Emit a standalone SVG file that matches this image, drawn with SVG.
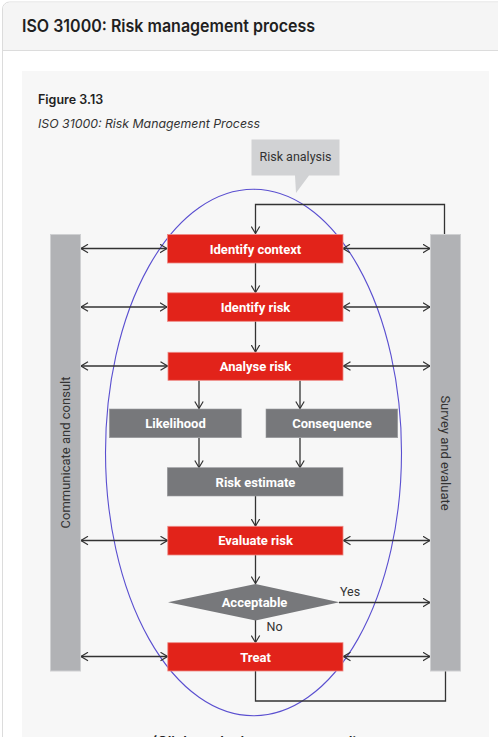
<svg xmlns="http://www.w3.org/2000/svg" width="498" height="737" viewBox="0 0 498 737">
<defs>
<style>
.title{font-family:Inter,"Open Sans","Liberation Sans",sans-serif;font-weight:600;font-size:17px;fill:#1f1f1f}
.fig{font-family:Inter,"Open Sans","Liberation Sans",sans-serif;font-weight:600;font-size:12.5px;fill:#1f1f1f}
.cap{font-family:Inter,"Open Sans","Liberation Sans",sans-serif;font-style:italic;font-size:12.3px;fill:#333}
.red{fill:#e2231a;stroke:#ee8a86;stroke-width:0.8}
.gray{fill:#77787b;stroke:#9a9b9e;stroke-width:0.6}
.bar{fill:#b1b2b5;stroke:#cfd0d2;stroke-width:1}
.lbl{font-family:Roboto,"Liberation Sans",sans-serif;font-weight:700;font-size:13px;fill:#fff;text-anchor:middle}
.side{font-family:Roboto,"Liberation Sans",sans-serif;font-size:13px;fill:#333;text-anchor:middle}
.note{font-family:Roboto,"Liberation Sans",sans-serif;font-size:12.5px;fill:#333}
.ln{fill:none;stroke:#333;stroke-width:1.3}
</style>
<marker id="ah" viewBox="0 0 8 10" refX="7.5" refY="5" markerWidth="8" markerHeight="10" markerUnits="userSpaceOnUse" orient="auto-start-reverse">
<path d="M0.5,0.8 L7.5,5 L0.5,9.2" fill="none" stroke="#333" stroke-width="1.2"/>
</marker>
</defs>
<rect x="0" y="0" width="498" height="737" fill="#ffffff"/>
<g id="card">
<path d="M2.5,737 V9 a7,7 0 0 1 7,-7 H498" fill="#ffffff" stroke="#dcdcdc" stroke-width="1"/>
<path d="M3,50 V9 a6.5,6.5 0 0 1 6.5,-6.5 H498 V50 Z" fill="#f5f5f5"/>
<line x1="3" y1="50.5" x2="498" y2="50.5" stroke="#dcdcdc" stroke-width="1"/>
<text class="title" x="22" y="31.5" textLength="293" lengthAdjust="spacingAndGlyphs">ISO 31000: Risk management process</text>
<rect x="22" y="71" width="467" height="680" fill="#f7f7f7"/>
<text class="fig" x="38" y="103.5">Figure 3.13</text>
<text class="cap" x="38" y="128">ISO 31000: Risk Management Process</text>
</g>
<g id="callout">
<path d="M251.5,139.5 H339.5 V175.5 H309 L296,193 L295,175.5 H251.5 Z" fill="#d1d2d4"/>
<text class="note" x="295.5" y="161" text-anchor="middle" fill="#444">Risk analysis</text>
</g>
<g id="ellipse">
<ellipse cx="253.5" cy="452.5" rx="148" ry="263.2" fill="none" stroke="#5a4fd0" stroke-width="1.1"/>
</g>
<g id="connectors">
<path class="ln" d="M444.5,234 V204.5 H255.5 V233.5" marker-end="url(#ah)"/>
<path class="ln" d="M255.5,671 V701 H445.5 V671"/>
<line class="ln" x1="255.5" y1="263" x2="255.5" y2="292.5" marker-end="url(#ah)"/>
<line class="ln" x1="255.5" y1="321" x2="255.5" y2="352" marker-end="url(#ah)"/>
<line class="ln" x1="199" y1="380.5" x2="199" y2="408.5" marker-end="url(#ah)"/>
<line class="ln" x1="300" y1="380.5" x2="300" y2="408.5" marker-end="url(#ah)"/>
<line class="ln" x1="199" y1="438" x2="199" y2="467.5" marker-end="url(#ah)"/>
<line class="ln" x1="300" y1="438" x2="300" y2="467.5" marker-end="url(#ah)"/>
<line class="ln" x1="255.5" y1="496" x2="255.5" y2="526" marker-end="url(#ah)"/>
<line class="ln" x1="255.5" y1="555" x2="255.5" y2="583.5" marker-end="url(#ah)"/>
<line class="ln" x1="255.5" y1="620" x2="255.5" y2="642.5" marker-end="url(#ah)"/>
<line class="ln" x1="339" y1="602.5" x2="430" y2="602.5" marker-end="url(#ah)"/>
<line class="ln" x1="81" y1="248.5" x2="167" y2="248.5" marker-start="url(#ah)" marker-end="url(#ah)"/>
<line class="ln" x1="343" y1="248.5" x2="430" y2="248.5" marker-start="url(#ah)" marker-end="url(#ah)"/>
<line class="ln" x1="81" y1="307" x2="167" y2="307" marker-start="url(#ah)" marker-end="url(#ah)"/>
<line class="ln" x1="343" y1="307" x2="430" y2="307" marker-start="url(#ah)" marker-end="url(#ah)"/>
<line class="ln" x1="81" y1="366" x2="167.5" y2="366" marker-start="url(#ah)" marker-end="url(#ah)"/>
<line class="ln" x1="343.5" y1="366" x2="430" y2="366" marker-start="url(#ah)" marker-end="url(#ah)"/>
<line class="ln" x1="81" y1="540.5" x2="167.5" y2="540.5" marker-start="url(#ah)" marker-end="url(#ah)"/>
<line class="ln" x1="343.5" y1="540.5" x2="430" y2="540.5" marker-start="url(#ah)" marker-end="url(#ah)"/>
<line class="ln" x1="81" y1="656.5" x2="167.5" y2="656.5" marker-start="url(#ah)" marker-end="url(#ah)"/>
<line class="ln" x1="343.5" y1="656.5" x2="430" y2="656.5" marker-start="url(#ah)" marker-end="url(#ah)"/>
</g>
<g id="communicate">
<rect class="bar" x="50.5" y="234.5" width="30" height="436.5"/>
<text class="side" transform="translate(70,452.5) rotate(-90)">Communicate and consult</text>
</g>
<g id="survey">
<rect class="bar" x="430.5" y="234.5" width="30" height="436.5"/>
<text class="side" transform="translate(440.5,453) rotate(90)">Survey and evaluate</text>
</g>
<g id="identify-context">
<rect class="red" x="167.5" y="234.5" width="175.5" height="28.5"/>
<text class="lbl" x="255.5" y="253.5">Identify context</text>
</g>
<g id="identify-risk">
<rect class="red" x="167.5" y="292.8" width="175.5" height="28.5"/>
<text class="lbl" x="255.5" y="311.8">Identify risk</text>
</g>
<g id="analyse-risk">
<rect class="red" x="168" y="352.3" width="175" height="28"/>
<text class="lbl" x="255.5" y="371">Analyse risk</text>
</g>
<g id="likelihood">
<rect class="gray" x="109.3" y="409" width="132" height="28.7"/>
<text class="lbl" x="175.5" y="428">Likelihood</text>
</g>
<g id="consequence">
<rect class="gray" x="266" y="409" width="131.7" height="28.7"/>
<text class="lbl" x="332" y="428">Consequence</text>
</g>
<g id="risk-estimate">
<rect class="gray" x="167.3" y="467.7" width="175.7" height="28.3"/>
<text class="lbl" x="255.5" y="486.5">Risk estimate</text>
</g>
<g id="evaluate-risk">
<rect class="red" x="167.8" y="526.3" width="175.2" height="28.7"/>
<text class="lbl" x="255.5" y="545.3">Evaluate risk</text>
</g>
<g id="acceptable">
<polygon points="168,602.3 255.5,584 339.3,602.3 255.5,620.5" fill="#77787b"/>
<text class="lbl" x="254.5" y="606.8">Acceptable</text>
<text class="note" x="340" y="595.5" font-size="12">Yes</text>
<text class="note" x="266.5" y="631" font-size="12">No</text>
</g>
<g id="treat">
<rect class="red" x="167.8" y="642.7" width="175.2" height="28.3"/>
<text class="lbl" x="255.5" y="661.5">Treat</text>
</g>
<text x="255" y="747" text-anchor="middle" font-family="Inter,'Open Sans','Liberation Sans',sans-serif" font-weight="600" font-size="14" fill="#222">(Click on the image to expand)</text>
</svg>
